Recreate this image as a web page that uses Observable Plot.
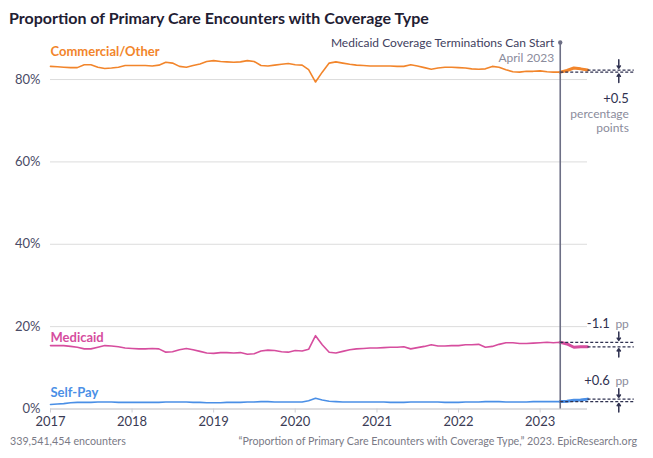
<!DOCTYPE html>
<html><head><meta charset="utf-8">
<script src="https://cdn.jsdelivr.net/npm/d3@7"></script>
<script src="https://cdn.jsdelivr.net/npm/@observablehq/plot@0.6"></script>
<style>
body{margin:0;background:#fff;font-family:Lato,sans-serif;}
#title{height:36px;line-height:36px;padding-left:9px;font-weight:700;font-size:16px;color:#1f2033;white-space:nowrap;}
#footer{display:flex;justify-content:space-between;padding:4px 16px 0 10px;font-size:10.7px;color:#7a7a86;line-height:14px;}
</style></head><body>
<div id="title">Proportion of Primary Care Encounters with Coverage Type</div>
<div id="chart"></div>
<div id="footer"><span>339,541,454 encounters</span><span>“Proportion of Primary Care Encounters with Coverage Type,” 2023. EpicResearch.org</span></div>
<script>
// Monthly, Jan 2017 – Aug 2023 (percent of encounters)
const months = d3.utcMonths(new Date(Date.UTC(2017,0,1)), new Date(Date.UTC(2023,8,1)));
const commercial = [
 83.2,83.1,83.0,82.9,82.9,83.6,83.6,83.0,82.7,82.8,83.0,83.4,
 83.4,83.4,83.4,83.3,83.5,84.2,84.0,83.2,83.0,83.4,83.8,84.4,
 84.6,84.4,84.3,84.2,84.3,84.6,84.4,83.4,83.3,83.5,83.7,83.9,
 83.6,83.5,82.4,79.4,81.8,84.0,84.3,84.0,83.7,83.5,83.4,83.3,
 83.3,83.3,83.3,83.2,83.2,83.6,83.3,82.9,82.5,82.8,83.0,83.0,
 82.9,82.8,82.6,82.5,82.6,83.2,83.0,82.4,81.9,81.8,82.0,82.0,
 82.1,81.9,81.8,81.8,82.2,82.8,82.6,82.3];
const medicaid = [
 15.4,15.4,15.4,15.2,15.0,14.6,14.6,15.0,15.4,15.3,15.1,14.8,
 14.7,14.6,14.6,14.7,14.6,13.8,13.9,14.4,14.7,14.4,14.0,13.6,
 13.5,13.7,13.7,13.6,13.7,13.3,13.4,14.1,14.3,14.2,13.9,13.8,
 14.2,14.1,14.5,17.8,15.6,13.8,13.6,14.0,14.4,14.6,14.7,14.8,
 14.8,14.9,15.0,15.0,15.1,14.6,14.9,15.2,15.6,15.3,15.3,15.4,
 15.4,15.6,15.6,15.7,15.0,15.2,15.7,16.1,16.1,15.9,15.9,16.0,
 16.1,16.2,16.1,16.2,15.8,15.0,15.1,15.1];
const selfPay = [
 1.1,1.2,1.3,1.5,1.6,1.6,1.6,1.7,1.7,1.7,1.6,1.6,
 1.6,1.6,1.6,1.6,1.6,1.7,1.7,1.7,1.7,1.6,1.6,1.5,
 1.5,1.5,1.6,1.6,1.6,1.7,1.7,1.8,1.8,1.7,1.7,1.7,
 1.7,1.7,2.0,2.6,2.2,1.9,1.8,1.7,1.7,1.7,1.7,1.7,
 1.7,1.7,1.6,1.6,1.6,1.7,1.7,1.7,1.7,1.7,1.6,1.6,
 1.6,1.7,1.7,1.7,1.8,1.8,1.8,1.7,1.7,1.7,1.7,1.8,
 1.8,1.8,1.8,1.8,1.9,2.1,2.2,2.4];
const seriesNames = ["Commercial/Other","Medicaid","Self-Pay"];
const seriesColors = ["#f2852b","#d64d9e","#4a8fe6"];
const changeMain = ["+0.5","-1.1","+0.6"];
const yTicks = [0,20,40,60,80];
const eventDate = new Date(Date.UTC(2023,3,1));
const eventLabel = "Medicaid Coverage Terminations Can Start";
const eventSub = "April 2023";

const values = [commercial, medicaid, selfPay];
const labelDy = [-15, -8, -12];
const data = [];
values.forEach((arr,k)=>arr.forEach((v,i)=>data.push({series:seriesNames[k], date:months[i], value:v})));
const post = data.filter(d=>d.date>=eventDate);
const last = months[months.length-1];
const iEvent = months.findIndex(m=>+m===+eventDate);
const annoEnd = new Date(Date.UTC(2024,1,24));
const arrowX = new Date(Date.UTC(2023,11,19));
const textX = new Date(Date.UTC(2024,1,2));
const refs = values.map((arr,k)=>({series:seriesNames[k], color:seriesColors[k], start:arr[iEvent], end:arr[arr.length-1], first:arr[0], main:changeMain[k], ldy:labelDy[k]}));
refs.forEach(r=>{r.hi=Math.max(r.start,r.end); r.lo=Math.min(r.start,r.end);});
const dashes = refs.flatMap(r=>[{x1:eventDate, y:r.start},{x1:last, y:r.end}]);
const ink = "#2f3150";

const labelMarks = refs.map(r=>Plot.text([r], {x:()=>months[0], y:"first", text:"series", fill:r.color, textAnchor:"start", fontWeight:700, fontSize:13, dy:r.ldy}));

const plot = Plot.plot({
  width:653, height:394,
  marginLeft:50, marginRight:66, marginTop:6, marginBottom:21.5,
  style:{fontFamily:"Lato, sans-serif", fontSize:"13px", color:"#4a4b66", overflow:"visible"},
  x:{type:"utc", domain:[months[0], last]},
  y:{domain:[0,89]},
  color:{domain:seriesNames, range:seriesColors},
  marks:[
    Plot.gridY(yTicks, {stroke:"#dcdcdc", strokeOpacity:1}),
    Plot.ruleY([0], {stroke:"#cfcfd4"}),
    Plot.axisY(yTicks, {tickFormat:d=>d+"%", tickSize:0, tickPadding:10, fontSize:13, label:null, fill:"#4a4b66"}),
    Plot.axisX({ticks:d3.utcYear.every(1), tickFormat:"%Y", tickSize:4, tickPadding:4, fontSize:13, label:null, stroke:"#cfcfd4", fill:"#3a3b55"}),
    Plot.line(data, {x:"date", y:"value", z:"series", stroke:"series", strokeWidth:1.6}),
    Plot.line(post, {x:"date", y:"value", z:"series", stroke:"series", strokeWidth:3}),
    Plot.ruleX([eventDate], {y1:0, y2:89, stroke:"#6d6f85", strokeWidth:1.6}),
    Plot.dot([eventDate], {x:d=>d, y:89, r:2.2, fill:"#6d6f85"}),
    Plot.text([eventLabel], {x:eventDate, y:89, text:d=>d, textAnchor:"end", dx:-6, dy:1, fontSize:12, fill:"#3f4160"}),
    Plot.text([eventSub], {x:eventDate, y:89, text:d=>d, textAnchor:"end", dx:-6, dy:16, fontSize:12, fill:"#8b8c9c"}),
    Plot.link(dashes, {x1:"x1", x2:()=>annoEnd, y1:"y", y2:"y", stroke:ink, strokeWidth:1.3, strokeDasharray:"3,2"}),
    Plot.arrow(refs, {x1:()=>arrowX, x2:()=>arrowX, y1:d=>d.hi+2.5, y2:d=>d.hi+0.45, stroke:ink, strokeWidth:1.5, headLength:6, headAngle:70}),
    Plot.arrow(refs, {x1:()=>arrowX, x2:()=>arrowX, y1:d=>d.lo-2.5, y2:d=>d.lo-0.45, stroke:ink, strokeWidth:1.5, headLength:6, headAngle:70}),
    ...labelMarks,
    // commercial change text
    Plot.text(refs.slice(0,1), {x:()=>textX, y:d=>d.lo, text:"main", textAnchor:"end", fontSize:13, fill:ink, dy:27}),
    Plot.text(refs.slice(0,1), {x:()=>textX, y:d=>d.lo, text:()=>"percentage", textAnchor:"end", fontSize:12, fill:"#8b8c9c", dy:42}),
    Plot.text(refs.slice(0,1), {x:()=>textX, y:d=>d.lo, text:()=>"points", textAnchor:"end", fontSize:12, fill:"#8b8c9c", dy:56}),
    // medicaid & self-pay change text
    Plot.text(refs.slice(1), {x:()=>textX, y:d=>d.hi, text:()=>"pp", textAnchor:"end", fontSize:12, fill:"#8b8c9c", dy:-18}),
    Plot.text(refs.slice(1), {x:()=>textX, y:d=>d.hi, text:"main", textAnchor:"end", fontSize:13, fill:ink, dx:-19, dy:-18})
  ]
});
document.getElementById("chart").appendChild(plot);
</script>
</body></html>
